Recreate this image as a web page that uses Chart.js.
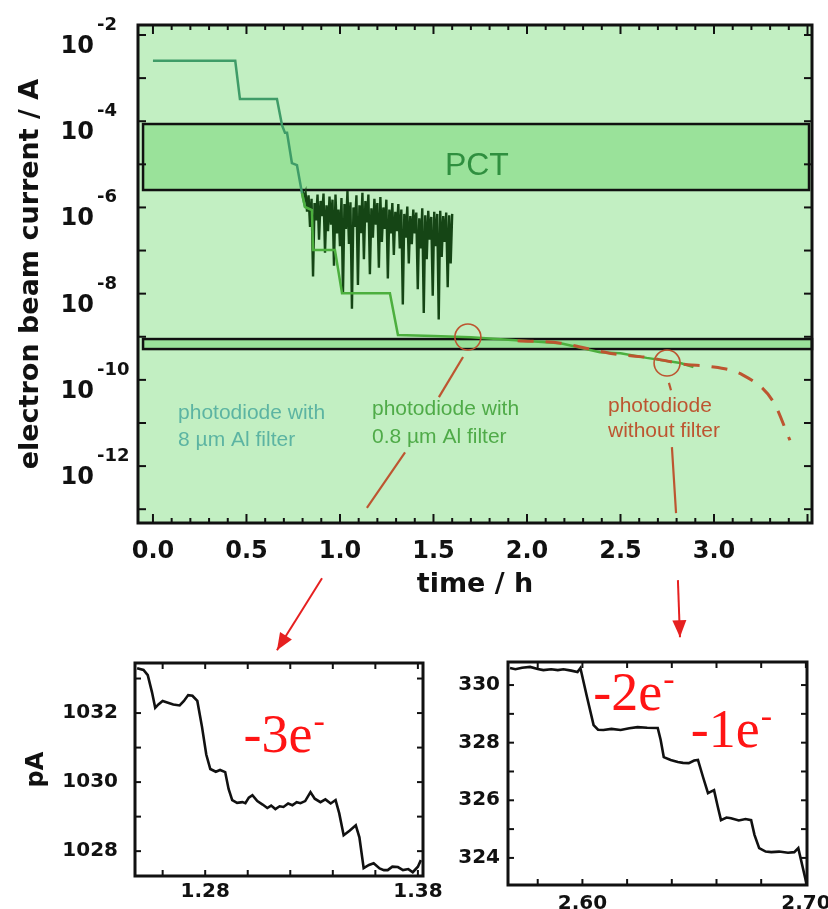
<!DOCTYPE html>
<html lang="en">
<head>
<meta charset="UTF-8">
<title>Electron beam current</title>
<script src="https://cdn.jsdelivr.net/npm/chart.js@4.4.1/dist/chart.umd.min.js"></script>
<style>
  body { margin: 0; background: #fff; }
  .wrap { position: relative; width: 828px; height: 909px; overflow: hidden; }
  canvas { position: absolute; }
  #main { left: 0; top: 0; }
  #zoom1 { left: 0; top: 630px; }
  #zoom2 { left: 440px; top: 630px; }
</style>
</head>
<body>
<div class="wrap">
  <canvas id="main" width="828" height="909"></canvas>
  <canvas id="zoom1" width="460" height="279"></canvas>
  <canvas id="zoom2" width="400" height="279"></canvas>
</div>
<script>
// main panel: time in h, current as log10(A)
const pd8Time = [0.00, 0.44, 0.465, 0.663, 0.690, 0.706, 0.717, 0.743, 0.770, 0.797, 0.813];
const pd8Log  = [-2.60, -2.60, -3.485, -3.485, -4.09, -4.27, -4.27, -4.97, -5.02, -5.67, -5.99];

const pd08Time = [0.797, 0.813, 0.850, 0.856, 0.973, 1.011, 1.267, 1.310, 1.50, 1.70, 2.00, 2.18, 2.39, 2.50, 2.64, 2.82, 2.89];
const pd08Log  = [-5.67, -5.99, -6.06, -6.99, -6.99, -7.99, -7.99, -8.96, -8.98, -9.01, -9.10, -9.15, -9.36, -9.38, -9.49, -9.61, -9.70];

const noiseTime = [0.800, 0.808, 0.816, 0.824, 0.832, 0.840, 0.848, 0.856, 0.864, 0.872, 0.880, 0.888, 0.896, 0.904, 0.912, 0.920,
  0.928, 0.936, 0.944, 0.952, 0.960, 0.968, 0.976, 0.984, 0.992, 1.000, 1.008, 1.016, 1.024, 1.032, 1.040, 1.048,
  1.056, 1.064, 1.072, 1.080, 1.088, 1.096, 1.104, 1.112, 1.120, 1.128, 1.136, 1.144, 1.152, 1.160, 1.168, 1.176,
  1.184, 1.192, 1.200, 1.208, 1.216, 1.224, 1.232, 1.240, 1.248, 1.256, 1.264, 1.272, 1.280, 1.288, 1.296, 1.304,
  1.312, 1.320, 1.328, 1.336, 1.344, 1.352, 1.360, 1.368, 1.376, 1.384, 1.392, 1.400, 1.408, 1.416, 1.424, 1.432,
  1.440, 1.448, 1.456, 1.464, 1.472, 1.480, 1.488, 1.496, 1.504, 1.512, 1.520, 1.528, 1.536, 1.544, 1.552, 1.560,
  1.568, 1.576, 1.584, 1.592, 1.600];
const noiseLog = [-5.62, -5.78, -5.66, -6.10, -5.72, -6.45, -5.80, -7.60, -5.90, -6.30, -5.70, -6.75, -5.85, -6.20, -5.68, -7.05,
  -5.95, -6.55, -5.75, -6.40, -5.82, -7.35, -5.70, -6.60, -6.05, -6.90, -5.78, -8.00, -5.92, -6.50, -5.62, -6.85,
  -5.88, -8.35, -6.00, -6.45, -5.72, -7.80, -5.95, -6.60, -5.66, -7.20, -5.85, -6.35, -5.70, -7.55, -6.02, -6.70,
  -5.80, -6.40, -5.90, -7.40, -5.76, -6.80, -6.00, -6.50, -5.82, -7.65, -6.05, -6.60, -5.90, -7.10, -6.10, -6.55,
  -5.92, -6.95, -6.05, -8.25, -6.15, -6.70, -5.98, -7.30, -6.20, -6.85, -6.05, -6.60, -6.12, -7.90, -6.25, -6.95,
  -6.02, -8.45, -6.18, -7.20, -6.08, -6.75, -6.22, -8.05, -6.10, -6.90, -6.15, -8.60, -6.08, -7.15, -6.20, -6.80,
  -6.12, -7.85, -6.18, -7.30, -6.15];

const pd0Time = [1.95, 2.18, 2.44, 2.66, 2.86, 2.96, 3.155, 3.316, 3.406];
const pd0Log  = [-9.09, -9.15, -9.38, -9.49, -9.65, -9.68, -9.89, -10.5, -11.4];

const xTickValues = [0, 0.5, 1, 1.5, 2, 2.5, 3];
const yLabelExps = [-12, -10, -8, -6, -4, -2];
const yTickExps = [-13, -12, -11, -10, -9, -8, -7, -6, -5, -4, -3, -2];

// zoom panels
const zoom1Time = [1.2480, 1.2510, 1.2530, 1.2550, 1.2565, 1.2580, 1.2600, 1.2625, 1.2650, 1.2680, 1.2700, 1.2720, 1.2740,
  1.2763, 1.2785, 1.2805, 1.2824, 1.2850, 1.2870, 1.2894, 1.2910, 1.2927, 1.2950, 1.2975, 1.2989, 1.3005, 1.3022,
  1.3045, 1.3070, 1.3092, 1.3110, 1.3130, 1.3150, 1.3168, 1.3190, 1.3210, 1.3230, 1.3248, 1.3270, 1.3295, 1.3315,
  1.3342, 1.3365, 1.3390, 1.3413, 1.3430, 1.3451, 1.3480, 1.3508, 1.3525, 1.3545, 1.3570, 1.3592, 1.3620, 1.3640,
  1.3658, 1.3680, 1.3706, 1.3730, 1.3755, 1.3776, 1.3800, 1.3814];
const zoom1Current = [1033.30, 1033.25, 1033.10, 1032.60, 1032.15, 1032.25, 1032.35, 1032.30, 1032.25, 1032.22, 1032.35, 1032.52, 1032.50,
  1032.35, 1031.60, 1030.80, 1030.38, 1030.30, 1030.35, 1030.29, 1029.80, 1029.48, 1029.40, 1029.42, 1029.39, 1029.55, 1029.62,
  1029.45, 1029.35, 1029.25, 1029.32, 1029.22, 1029.30, 1029.28, 1029.38, 1029.33, 1029.42, 1029.39, 1029.45, 1029.71, 1029.52,
  1029.42, 1029.50, 1029.38, 1029.48, 1029.10, 1028.46, 1028.60, 1028.75, 1028.40, 1027.51, 1027.60, 1027.65, 1027.50, 1027.45,
  1027.45, 1027.55, 1027.54, 1027.45, 1027.48, 1027.39, 1027.55, 1027.74];
const zoom1XLabels = [1.28, 1.38];
const zoom1YLabels = [1028, 1030, 1032];
const zoom1XTicks = [1.26, 1.28, 1.30, 1.32, 1.34, 1.36, 1.38];
const zoom1YTicks = [1028, 1029, 1030, 1031, 1032, 1033];

const zoom2Time = [2.5676, 2.5700, 2.5730, 2.5766, 2.5800, 2.5825, 2.5860, 2.5890, 2.5915, 2.5950, 2.5978, 2.5991, 2.6020,
  2.6050, 2.6070, 2.6094, 2.6130, 2.6171, 2.6210, 2.6247, 2.6290, 2.6337, 2.6350, 2.6364, 2.6395, 2.6427, 2.6450,
  2.6476, 2.6500, 2.6517, 2.6540, 2.6562, 2.6575, 2.6589, 2.6605, 2.6620, 2.6645, 2.6665, 2.6700, 2.6730, 2.6755,
  2.6770, 2.6791, 2.6820, 2.6845, 2.6880, 2.6920, 2.6948, 2.6966, 2.6985, 2.7002];
const zoom2Current = [330.59, 330.55, 330.60, 330.63, 330.56, 330.52, 330.55, 330.52, 330.55, 330.50, 330.45, 330.59, 329.60,
  328.61, 328.45, 328.44, 328.48, 328.44, 328.50, 328.54, 328.52, 328.51, 328.10, 327.50, 327.40, 327.33, 327.30,
  327.29, 327.38, 327.40, 326.80, 326.25, 326.30, 326.35, 325.80, 325.31, 325.40, 325.38, 325.30, 325.35, 325.31,
  324.80, 324.34, 324.22, 324.20, 324.22, 324.18, 324.20, 324.34, 323.70, 323.13];
const zoom2XLabels = [2.60, 2.70];
const zoom2YLabels = [324, 326, 328, 330];
const zoom2XTicks = [2.58, 2.60, 2.62, 2.64, 2.66, 2.68, 2.70];
const zoom2YTicks = [324, 325, 326, 327, 328, 329, 330];

const INK = '#111';
const BOLD = '"DejaVu Sans", sans-serif';
const SANS = '"Liberation Sans", Arial, sans-serif';
const SERIF = '"Liberation Serif", "Times New Roman", serif';
const BROWN = '#bd5530';
const RED = '#e62020';

// [x0, x1, log top, log bottom]
const pctBox = [-0.053, 3.508, -4.065, -5.596];
const bandBox = [-0.053, 3.524, -9.053, -9.285];

const toPoints = (t, v) => t.map((tt, i) => ({ x: tt, y: v[i] }));
const toLogPoints = (t, e) => t.map((tt, i) => ({ x: tt, y: Math.pow(10, e[i]) }));

function line(ctx, a, b) {
  ctx.beginPath(); ctx.moveTo(a[0], a[1]); ctx.lineTo(b[0], b[1]); ctx.stroke();
}

function arrow(ctx, a, b) {
  line(ctx, a, b);
  const ang = Math.atan2(b[1] - a[1], b[0] - a[0]);
  const L = 17, W = 7;
  ctx.beginPath();
  ctx.moveTo(b[0], b[1]);
  ctx.lineTo(b[0] - L * Math.cos(ang) + W * Math.sin(ang), b[1] - L * Math.sin(ang) - W * Math.cos(ang));
  ctx.lineTo(b[0] - L * Math.cos(ang) - W * Math.sin(ang), b[1] - L * Math.sin(ang) + W * Math.cos(ang));
  ctx.closePath();
  ctx.fill();
}

const mainDecor = {
  id: 'mainDecor',
  beforeDatasetsDraw(chart) {
    const { ctx, chartArea: a, scales: { x, y } } = chart;
    ctx.save();
    ctx.fillStyle = '#c2efc2';
    ctx.fillRect(a.left, a.top, a.right - a.left, a.bottom - a.top);
    for (const b of [pctBox, bandBox]) {
      const x0 = x.getPixelForValue(b[0]), x1 = x.getPixelForValue(b[1]);
      const y0 = y.getPixelForValue(Math.pow(10, b[2])), y1 = y.getPixelForValue(Math.pow(10, b[3]));
      ctx.fillStyle = '#9ae29a';
      ctx.fillRect(x0, y0, x1 - x0, y1 - y0);
      ctx.strokeStyle = INK;
      ctx.lineWidth = 2.5;
      ctx.strokeRect(x0, y0, x1 - x0, y1 - y0);
    }
    ctx.restore();
  },
  afterDraw(chart) {
    const { ctx, chartArea: a, scales: { x, y } } = chart;
    const P = (t, e) => [x.getPixelForValue(t), y.getPixelForValue(Math.pow(10, e))];
    ctx.save();

    // ticks
    ctx.strokeStyle = INK;
    ctx.lineWidth = 2;
    for (const e of yTickExps) {
      const py = y.getPixelForValue(Math.pow(10, e));
      line(ctx, [a.left, py], [a.left + 8, py]);
      line(ctx, [a.right - 8, py], [a.right, py]);
    }
    for (let i = 0; i <= 35; i++) {
      const px = x.getPixelForValue(i / 10);
      const len = i % 5 === 0 ? 9 : 5;
      line(ctx, [px, a.bottom], [px, a.bottom - len]);
      line(ctx, [px, a.top], [px, a.top + len]);
    }
    ctx.lineWidth = 3;
    ctx.strokeRect(a.left, a.top, a.right - a.left, a.bottom - a.top);

    // y tick labels 10^n
    ctx.fillStyle = INK;
    ctx.textBaseline = 'alphabetic';
    for (const e of yLabelExps) {
      const py = y.getPixelForValue(Math.pow(10, e));
      ctx.font = 'bold 24px ' + BOLD;
      ctx.textAlign = 'right';
      ctx.fillText('10', a.left - 44, py + 18);
      ctx.font = 'bold 18px ' + BOLD;
      ctx.textAlign = 'left';
      ctx.fillText(String(e), a.left - 41, py - 5);
    }

    // PCT label
    ctx.font = '32px ' + SANS;
    ctx.fillStyle = '#2f8f3f';
    ctx.textAlign = 'left';
    const pct = P(1.561, -5.248);
    ctx.fillText('PCT', pct[0], pct[1]);

    // circles and leader lines
    ctx.strokeStyle = BROWN;
    ctx.lineWidth = 1.6;
    for (const c of [[1.684, -9.007], [2.749, -9.61]]) {
      const p = P(c[0], c[1]);
      ctx.beginPath(); ctx.arc(p[0], p[1], 13, 0, Math.PI * 2); ctx.stroke();
    }
    ctx.lineWidth = 2.2;
    line(ctx, P(1.658, -9.47), P(1.529, -10.40));
    line(ctx, P(1.348, -11.68), P(1.144, -12.97));
    line(ctx, P(2.759, -10.07), P(2.770, -10.24));
    line(ctx, P(2.775, -11.56), P(2.797, -13.09));

    // red arrows to the zoom panels
    ctx.strokeStyle = RED;
    ctx.fillStyle = RED;
    ctx.lineWidth = 2;
    arrow(ctx, P(0.904, -14.60), P(0.663, -16.27));
    arrow(ctx, P(2.807, -14.645), P(2.818, -15.97));

    // curve labels
    ctx.font = '21px ' + SANS;
    const labels = [
      { at: [0.134, -10.91], color: '#5cb4a2', text: ['photodiode with', '8 \u00b5m Al filter'], gap: 27 },
      { at: [1.171, -10.817], color: '#4fab48', text: ['photodiode with', '0.8 \u00b5m Al filter'], gap: 28 },
      { at: [2.433, -10.747], color: BROWN, text: ['photodiode', 'without filter'], gap: 25 }
    ];
    for (const l of labels) {
      const p = P(l.at[0], l.at[1]);
      ctx.fillStyle = l.color;
      l.text.forEach((s, i) => ctx.fillText(s, p[0], p[1] + i * l.gap));
    }
    ctx.restore();
  }
};

new Chart(document.getElementById('main'), {
  type: 'line',
  data: {
    datasets: [
      { label: 'photodiode without filter', data: toLogPoints(pd0Time, pd0Log), borderColor: BROWN, borderWidth: 3,
        borderDash: [16, 12], cubicInterpolationMode: 'monotone', order: 0 },
      { label: 'photodiode with 0.8 um Al filter', data: toLogPoints(pd08Time, pd08Log), borderColor: '#4caf3e', borderWidth: 2.5, order: 1 },
      { label: 'photodiode with 8 um Al filter', data: toLogPoints(pd8Time, pd8Log), borderColor: '#3f9c68', borderWidth: 2.5, order: 2 },
      { label: 'PCT', data: toLogPoints(noiseTime, noiseLog), borderColor: '#154515', borderWidth: 2.4, order: 3 }
    ]
  },
  options: {
    responsive: false,
    animation: false,
    parsing: false,
    elements: { point: { radius: 0 }, line: { tension: 0 } },
    layout: { padding: { left: 0, right: 16, top: 25, bottom: 306 } },
    plugins: { legend: { display: false }, tooltip: { enabled: false } },
    scales: {
      x: {
        type: 'linear', min: -0.08, max: 3.524,
        afterBuildTicks: s => { s.ticks = xTickValues.map(value => ({ value })); },
        ticks: { callback: v => v.toFixed(1), font: { family: BOLD, weight: 'bold', size: 24 }, color: INK,
          padding: 14, maxRotation: 0, autoSkip: false },
        grid: { display: false, drawTicks: false },
        border: { display: false },
        title: { display: true, text: 'time / h', color: INK, font: { family: BOLD, weight: 'bold', size: 27 },
          padding: { top: 0, bottom: 2 } },
        afterFit: s => { s.height = 80; }
      },
      y: {
        type: 'logarithmic', min: Math.pow(10, -13.32), max: Math.pow(10, -1.768),
        ticks: { display: false },
        grid: { display: false, drawTicks: false },
        border: { display: false },
        title: { display: true, text: 'electron beam current / A', color: INK,
          font: { family: BOLD, weight: 'bold', size: 27 }, padding: { top: 15, bottom: 0 } },
        afterFit: s => { s.width = 138; }
      }
    }
  },
  plugins: [mainDecor]
});

function chargeLabel(ctx, x, y, base) {
  ctx.font = '54px ' + SERIF;
  ctx.textAlign = 'left';
  ctx.fillText(base, x, y);
  const w = ctx.measureText(base).width;
  ctx.font = '34px ' + SERIF;
  ctx.fillText('-', x + w + 1, y - 20);
}

function zoomDecor(xTicks, yTicks, notes) {
  return {
    id: 'zoomDecor',
    afterDraw(chart) {
      const { ctx, chartArea: a, scales: { x, y } } = chart;
      ctx.save();
      ctx.strokeStyle = INK;
      ctx.lineWidth = 2;
      for (const v of xTicks) {
        const px = x.getPixelForValue(v);
        line(ctx, [px, a.bottom], [px, a.bottom - 6]);
        line(ctx, [px, a.top], [px, a.top + 6]);
      }
      for (const v of yTicks) {
        const py = y.getPixelForValue(v);
        line(ctx, [a.left, py], [a.left + 6, py]);
        line(ctx, [a.right - 6, py], [a.right, py]);
      }
      ctx.lineWidth = 3;
      ctx.strokeRect(a.left, a.top, a.right - a.left, a.bottom - a.top);
      ctx.fillStyle = '#ff1414';
      ctx.textBaseline = 'alphabetic';
      for (const n of notes) {
        chargeLabel(ctx, x.getPixelForValue(n.at[0]), y.getPixelForValue(n.at[1]), n.text);
      }
      ctx.restore();
    }
  };
}

function zoomChart(id, time, current, o) {
  return new Chart(document.getElementById(id), {
    type: 'line',
    data: { datasets: [{ data: toPoints(time, current), borderColor: INK, borderWidth: 2.6 }] },
    options: {
      responsive: false,
      animation: false,
      parsing: false,
      elements: { point: { radius: 0 }, line: { tension: 0 } },
      layout: { padding: o.pad },
      plugins: { legend: { display: false }, tooltip: { enabled: false } },
      scales: {
        x: {
          type: 'linear', min: o.xMin, max: o.xMax,
          afterBuildTicks: s => { s.ticks = o.xLabels.map(value => ({ value })); },
          ticks: { callback: v => v.toFixed(2), font: { family: BOLD, weight: 'bold', size: 20 }, color: INK,
            padding: o.xPad, maxRotation: 0, autoSkip: false },
          grid: { display: false, drawTicks: false },
          border: { display: false },
          afterFit: s => { s.height = o.xH; }
        },
        y: {
          type: 'linear', min: o.yMin, max: o.yMax,
          afterBuildTicks: s => { s.ticks = o.yLabels.map(value => ({ value })); },
          ticks: { callback: v => String(v), font: { family: BOLD, weight: 'bold', size: 20 }, color: INK, padding: o.yPad },
          grid: { display: false, drawTicks: false },
          border: { display: false },
          title: o.yTitle ? { display: true, text: o.yTitle, color: INK, font: { family: BOLD, weight: 'bold', size: 24 },
            padding: { top: 22, bottom: 0 } } : { display: false },
          afterFit: s => { s.width = o.yW; }
        }
      }
    },
    plugins: [zoomDecor(o.xTicks, o.yTicks, o.notes)]
  });
}

zoomChart('zoom1', zoom1Time, zoom1Current, {
  pad: { left: 0, right: 37, top: 33, bottom: 0 },
  xMin: 1.247, xMax: 1.3824, yMin: 1027.28, yMax: 1033.45,
  xLabels: zoom1XLabels, yLabels: zoom1YLabels, xTicks: zoom1XTicks, yTicks: zoom1YTicks,
  xPad: 4, yPad: 17, xH: 33, yW: 135, yTitle: 'pA',
  notes: [{ at: [1.298, 1030.87], text: '-3e' }]
});

zoomChart('zoom2', zoom2Time, zoom2Current, {
  pad: { left: 0, right: 33, top: 32, bottom: 0 },
  xMin: 2.5667, xMax: 2.7005, yMin: 323.06, yMax: 330.8,
  xLabels: zoom2XLabels, yLabels: zoom2YLabels, xTicks: zoom2XTicks, yTicks: zoom2YTicks,
  xPad: 7, yPad: 8, xH: 24, yW: 68, yTitle: null,
  notes: [{ at: [2.6049, 329.13], text: '-2e' }, { at: [2.6485, 327.85], text: '-1e' }]
});
</script>
</body>
</html>
